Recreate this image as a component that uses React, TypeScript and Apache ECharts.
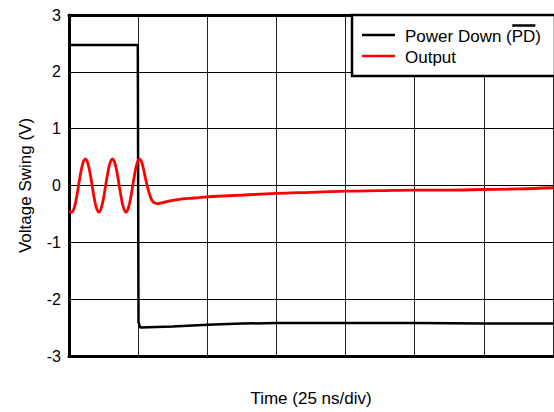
import React, { useEffect, useRef } from "react";
import * as echarts from "echarts";

// Time axis in divisions (25 ns/div), voltage in volts
const timeDivs = [0, 7];
const voltTicks = [-3, 3];

// Power Down (PD) control signal: [time div, volts]
const powerDownT = [0, 0.995, 1.005, 1.03, 1.5, 2.0, 2.5, 3.0, 4.0, 5.0, 6.0, 7.0];
const powerDownV = [2.47, 2.47, -2.4, -2.5, -2.48, -2.45, -2.43, -2.42, -2.42, -2.42, -2.43, -2.43];

// Amplifier output: ringing while enabled, then settling after power down
const outputT = [
  0.0, 0.04, 0.065, 0.089, 0.114, 0.138, 0.163, 0.187, 0.212, 0.236, 0.261, 0.285, 0.31, 0.334,
  0.359, 0.383, 0.408, 0.432, 0.457, 0.481, 0.506, 0.53, 0.555, 0.579, 0.604, 0.628, 0.653, 0.677,
  0.702, 0.726, 0.751, 0.775, 0.8, 0.824, 0.849, 0.873, 0.898, 0.922, 0.947, 0.971, 0.996, 1.02,
  1.045, 1.07, 1.1, 1.13, 1.17, 1.21, 1.27, 1.35, 1.46, 1.62, 1.81,
  2.0, 2.5, 3.0, 3.5, 4.0, 4.5, 5.0, 5.5, 6.0, 6.5, 7.0,
];
const outputV = [
  -0.45, -0.47, -0.43, -0.33, -0.18, 0.0, 0.18, 0.33, 0.43, 0.47, 0.43, 0.33, 0.18, 0.0,
  -0.18, -0.33, -0.43, -0.47, -0.43, -0.33, -0.18, 0.0, 0.18, 0.33, 0.43, 0.47, 0.43, 0.33,
  0.18, 0.0, -0.18, -0.33, -0.43, -0.47, -0.43, -0.33, -0.18, 0.0, 0.18, 0.33, 0.43, 0.47,
  0.43, 0.33, 0.16, 0.0, -0.17, -0.28, -0.32, -0.3, -0.27, -0.24, -0.22,
  -0.2, -0.17, -0.14, -0.12, -0.1, -0.09, -0.08, -0.08, -0.07, -0.06, -0.04,
];

const seriesNames = ["Power Down (PD)", "Output"];
const FONT = "Liberation Sans, Arial, Helvetica, sans-serif";

function pairs(xs: number[], ys: number[]) {
  return xs.map((x, i) => [x, ys[i]]);
}

function measure(text: string, size: number) {
  const c = document.createElement("canvas").getContext("2d");
  if (!c) return text.length * size * 0.55;
  c.font = `${size}px ${FONT}`;
  return c.measureText(text).width;
}

export default function App() {
  const ref = useRef<HTMLDivElement>(null);

  useEffect(() => {
    if (!ref.current) return;
    const chart = echarts.init(ref.current, undefined, { renderer: "svg" });

    const legendSize = 17;
    const textX = 405;
    const prefixW = measure("Power Down (", legendSize);
    const pdW = measure("PD", legendSize);

    chart.setOption({
      animation: false,
      backgroundColor: "#fff",
      textStyle: { fontFamily: FONT },
      grid: { left: 69, right: 1, top: 15, bottom: 55 },
      xAxis: [
        {
          type: "value",
          min: timeDivs[0],
          max: timeDivs[1],
          interval: 1,
          name: "Time (25 ns/div)",
          nameLocation: "middle",
          nameGap: 34,
          nameTextStyle: { fontSize: 17, color: "#000", fontFamily: FONT },
          axisLine: { show: true, onZero: false, lineStyle: { color: "#000", width: 3 } },
          axisTick: { show: false },
          axisLabel: { show: false },
          splitLine: { show: true, lineStyle: { color: "#222", width: 1 } },
        },
        {
          type: "value",
          position: "top",
          min: timeDivs[0],
          max: timeDivs[1],
          axisLine: { show: true, onZero: false, lineStyle: { color: "#000", width: 3 } },
          axisTick: { show: false },
          axisLabel: { show: false },
          splitLine: { show: false },
        },
      ],
      yAxis: {
        type: "value",
        min: voltTicks[0],
        max: voltTicks[1],
        interval: 1,
        name: "Voltage Swing (V)",
        nameLocation: "middle",
        nameGap: 35,
        nameRotate: 90,
        nameTextStyle: { fontSize: 17, color: "#000", fontFamily: FONT },
        axisLine: { show: true, onZero: false, lineStyle: { color: "#000", width: 3 } },
        axisTick: { show: false },
        axisLabel: { fontSize: 16, color: "#000", margin: 8, fontFamily: FONT },
        splitLine: { show: true, lineStyle: { color: "#000", width: 1 } },
      },
      series: [
        {
          name: seriesNames[0],
          type: "line",
          data: pairs(powerDownT, powerDownV),
          showSymbol: false,
          symbol: "none",
          lineStyle: { color: "#000", width: 2.5 },
          z: 3,
        },
        {
          name: seriesNames[1],
          type: "line",
          data: pairs(outputT, outputV),
          smooth: 0.4,
          showSymbol: false,
          symbol: "none",
          lineStyle: { color: "#f00", width: 2.8 },
          z: 4,
        },
      ],
      graphic: [
        {
          type: "rect",
          z: 10,
          shape: { x: 352, y: 15, width: 203, height: 61 },
          style: { fill: "#fff", stroke: "#000", lineWidth: 2.5 },
        },
        {
          type: "line",
          z: 11,
          shape: { x1: 362, y1: 35, x2: 395, y2: 35 },
          style: { stroke: "#000", lineWidth: 2.5 },
        },
        {
          type: "line",
          z: 11,
          shape: { x1: 362, y1: 56, x2: 395, y2: 56 },
          style: { stroke: "#f00", lineWidth: 2.5 },
        },
        {
          type: "text",
          z: 11,
          x: textX,
          y: 36,
          style: {
            text: seriesNames[0],
            font: `${legendSize}px ${FONT}`,
            fill: "#000",
            verticalAlign: "middle",
            align: "left",
          },
        },
        {
          type: "text",
          z: 11,
          x: textX,
          y: 57,
          style: {
            text: seriesNames[1],
            font: `${legendSize}px ${FONT}`,
            fill: "#000",
            verticalAlign: "middle",
            align: "left",
          },
        },
        {
          type: "line",
          z: 11,
          shape: { x1: textX + prefixW + 0.5, y1: 25.5, x2: textX + prefixW + pdW, y2: 25.5 },
          style: { stroke: "#000", lineWidth: 2.5 },
        },
      ],
    });

    return () => chart.dispose();
  }, []);

  return (
    <div
      ref={ref}
      style={{ position: "absolute", left: 0, top: 0, width: 554, height: 412 }}
    />
  );
}
